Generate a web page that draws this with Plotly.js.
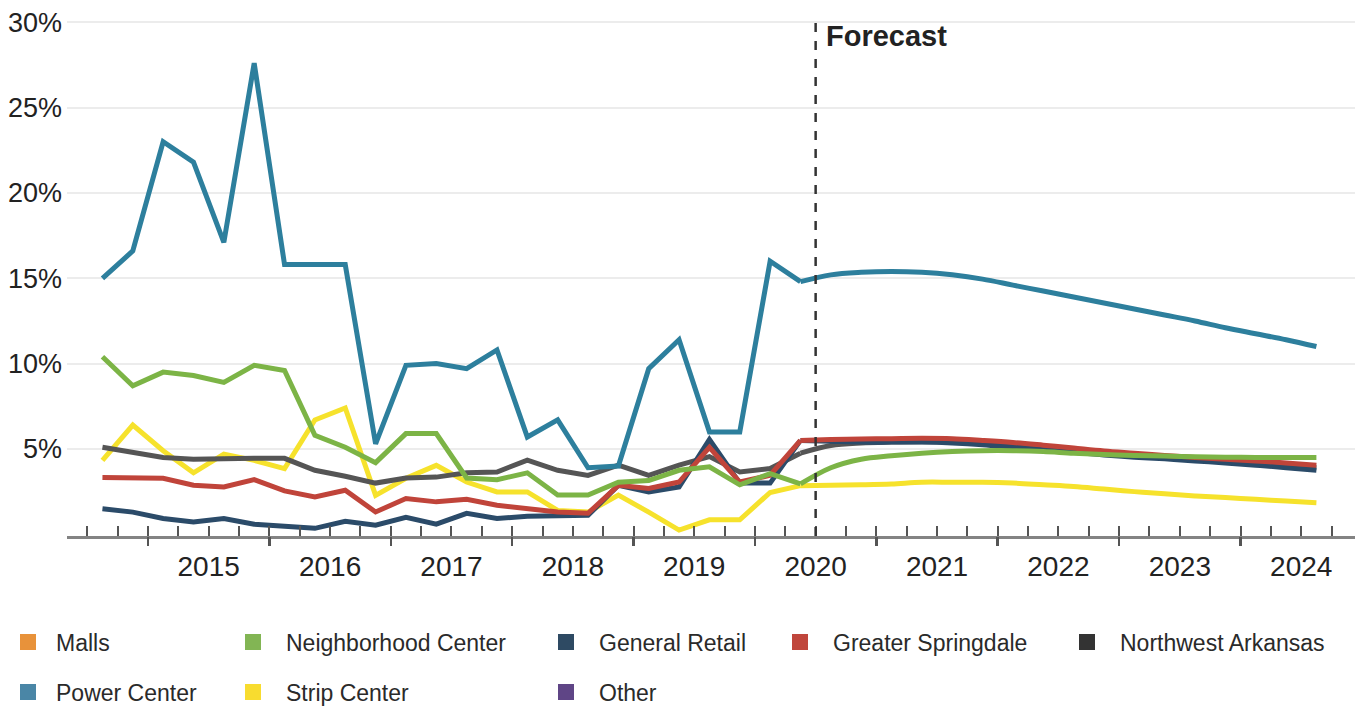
<!DOCTYPE html>
<html><head><meta charset="utf-8">
<script src="https://cdn.plot.ly/plotly-3.0.1.min.js"></script>
<style>html,body{margin:0;padding:0;background:#fff}#chart{width:1361px;height:707px}</style>
</head><body><div id="chart"></div>
<script>
const quarters = ['2014Q3','2014Q4',
  '2015Q1','2015Q2','2015Q3','2015Q4',
  '2016Q1','2016Q2','2016Q3','2016Q4',
  '2017Q1','2017Q2','2017Q3','2017Q4',
  '2018Q1','2018Q2','2018Q3','2018Q4',
  '2019Q1','2019Q2','2019Q3','2019Q4',
  '2020Q1','2020Q2','2020Q3','2020Q4',
  '2021Q1','2021Q2','2021Q3','2021Q4',
  '2022Q1','2022Q2','2022Q3','2022Q4',
  '2023Q1','2023Q2','2023Q3','2023Q4',
  '2024Q1','2024Q2','2024Q3'];
const forecastFrom = '2020Q3';
const yearLabels = ['2015','2016','2017','2018','2019','2020','2021','2022','2023','2024'];
const yTickValues = [5,10,15,20,25,30];

const powerCenter = [15.0,16.6,23.0,21.8,17.1,27.6,15.8,15.8,15.8,5.3,9.9,10.0,9.7,10.8,5.7,6.7,3.9,4.0,9.7,11.4,6.0,6.0,16.0,14.8,
  15.2,15.35,15.4,15.35,15.2,14.95,14.6,14.25,13.9,13.55,13.2,12.85,12.5,12.1,11.75,11.4,11.0];
const neighborhoodCenter = [10.4,8.7,9.5,9.3,8.9,9.9,9.6,5.8,5.1,4.2,5.9,5.9,3.3,3.2,3.6,2.3,2.3,3.05,3.15,3.75,3.95,2.9,3.55,2.95,
  3.9,4.4,4.6,4.75,4.85,4.9,4.9,4.85,4.75,4.68,4.62,4.58,4.55,4.52,4.5,4.5,4.5];
const generalRetail = [1.5,1.3,0.93,0.72,0.93,0.59,0.47,0.35,0.76,0.53,1.0,0.59,1.23,0.93,1.05,1.11,1.11,2.87,2.48,2.77,5.56,3.0,3.0,5.5,
  5.45,5.4,5.4,5.4,5.35,5.25,5.1,4.95,4.8,4.65,4.52,4.42,4.3,4.18,4.05,3.9,3.75];
const greaterSpringdale = [3.33,3.28,3.28,2.87,2.77,3.2,2.54,2.19,2.58,1.31,2.1,1.9,2.05,1.7,1.52,1.31,1.23,2.87,2.69,3.06,5.1,3.06,3.46,5.5,
  5.55,5.58,5.6,5.62,5.6,5.5,5.38,5.22,5.05,4.88,4.75,4.62,4.5,4.4,4.3,4.18,4.05];
const northwestArkansas = [5.1,4.8,4.5,4.4,4.45,4.45,4.45,3.75,3.4,3.0,3.3,3.35,3.6,3.65,4.35,3.75,3.45,4.05,3.45,4.05,4.55,3.65,3.85,4.75,
  5.2,5.35,5.4,5.42,5.4,5.3,5.15,5.0,4.85,4.7,4.58,4.48,4.38,4.28,4.15,4.02,3.9];
const stripCenter = [4.33,6.4,4.9,3.6,4.7,4.33,3.85,6.7,7.4,2.28,3.28,4.04,3.06,2.48,2.48,1.4,1.3,2.3,1.3,0.25,0.85,0.85,2.45,2.85,
  2.87,2.9,2.95,3.05,3.05,3.05,3.0,2.9,2.8,2.65,2.5,2.38,2.25,2.15,2.05,1.95,1.85];
const malls = [];
const other = [];

const FONT = '"Liberation Sans", Arial, sans-serif';
function qToX(q){ const y = +q.slice(0,4), n = +q.slice(5); return y + (n - 0.5) / 4; }
const xs = quarters.map(qToX);
const fIdx = quarters.indexOf(forecastFrom);
const forecastX = (xs[fIdx-1] + xs[fIdx]) / 2;

const lineSeries = [
  {name:'Strip Center', data:stripCenter, color:'#f6e22c'},
  {name:'Northwest Arkansas', data:northwestArkansas, color:'#555555'},
  {name:'General Retail', data:generalRetail, color:'#2b4b69'},
  {name:'Greater Springdale', data:greaterSpringdale, color:'#c0443a'},
  {name:'Neighborhood Center', data:neighborhoodCenter, color:'#7cb446'},
  {name:'Power Center', data:powerCenter, color:'#2d7f9d'}
];
const traces = [];
lineSeries.forEach(s => {
  traces.push({x: xs.slice(0, fIdx), y: s.data.slice(0, fIdx), type:'scatter', mode:'lines',
    line:{color:s.color, width:5}, showlegend:false, hoverinfo:'skip', name:s.name});
  traces.push({x: xs.slice(fIdx-1), y: s.data.slice(fIdx-1), type:'scatter', mode:'lines',
    line:{color:s.color, width:5, shape:'spline', smoothing:1}, showlegend:false, hoverinfo:'skip', name:s.name});
});

const legendEntries = [
  {name:'Malls', color:'#e8923a', px:28, row:642, w:46},
  {name:'Neighborhood Center', color:'#82b554', px:253, row:642, w:56},
  {name:'General Retail', color:'#2e4a63', px:566, row:642, w:56},
  {name:'Greater Springdale', color:'#c0463c', px:800, row:642, w:56},
  {name:'Northwest Arkansas', color:'#333333', px:1087, row:642, w:56},
  {name:'Power Center', color:'#4a86a6', px:28, row:692, w:46},
  {name:'Strip Center', color:'#f8dc2f', px:253, row:692, w:56},
  {name:'Other', color:'#5f4586', px:566, row:692, w:56}
];
const layout = {
  width:1361, height:707,
  margin:{l:67, r:6, t:12, b:171},
  paper_bgcolor:'#fff', plot_bgcolor:'#fff',
  font:{family:FONT, color:'#222'},
  xaxis:{range:[2014.333, 2024.943], tickmode:'array',
    tickvals: yearLabels.map(y => +y + 0.5), ticktext: yearLabels,
    ticks:'', ticklabelstandoff: 3,
    tickfont:{size:28, color:'#222', family:FONT},
    showgrid:false, zeroline:false, showline:true, linecolor:'#838383', linewidth:3,
    minor:{tickmode:'array', tickvals: [], ticks:'inside', ticklen:10, tickwidth:2, tickcolor:'#555', showgrid:false}
  },
  xaxis2:{overlaying:'x', anchor:'y', side:'bottom', range:[2014.333, 2024.943], tickmode:'array',
    tickvals: yearLabels.map(y => +y), ticks:'outside', ticklen:9, tickwidth:2.5, tickcolor:'#555',
    showticklabels:false, showgrid:false, zeroline:false, showline:false},
  yaxis:{range:[-0.1, 30.6], tickmode:'array', tickvals:yTickValues, ticktext:yTickValues.map(v => v + '%'),
    ticks:'', ticklabelstandoff: 4, tickfont:{size:27, color:'#222', family:FONT},
    showgrid:true, gridcolor:'#ececec', gridwidth:2, zeroline:false, showline:false},
  shapes:[{type:'line', xref:'x', yref:'y', x0:forecastX, x1:forecastX, y0:-0.1, y1:30.2,
    line:{color:'#333', width:2.5, dash:'dash'}}],
  annotations:[{xref:'x', yref:'y', x:forecastX, y:29.2, xanchor:'left', yanchor:'middle', xshift:8,
    text:'<b>Forecast</b>', showarrow:false, font:{size:29, color:'#222', family:FONT}}],
  showlegend:true
};
const mt = [];
for (let v = 2014.5; v < 2024.9; v += 0.25) mt.push(+v.toFixed(2));
layout.xaxis.minor.tickvals = mt;

legendEntries.forEach((e, i) => {
  const key = i === 0 ? 'legend' : 'legend' + (i + 1);
  const half = 5 + e.w / 2;
  layout[key] = {xref:'container', yref:'container', x:Math.max(0, (e.px - half) / 1361), y:1 - e.row / 707,
    xanchor:'left', yanchor:'middle', orientation:'h', itemwidth:e.w, bgcolor:'rgba(0,0,0,0)',
    font:{size:23, color:'#2a2a2a', family:FONT}};
  traces.push({x:[null], y:[null], type:'scatter', mode:'markers', name:e.name, legend:key,
    marker:{symbol:'square', size:16, color:e.color}, showlegend:true, hoverinfo:'skip'});
});
traces.push({x:[null], y:[null], xaxis:'x2', type:'scatter', mode:'markers', showlegend:false, hoverinfo:'skip'});

Plotly.newPlot('chart', traces, layout, {displayModeBar:false, staticPlot:true});
</script></body></html>
